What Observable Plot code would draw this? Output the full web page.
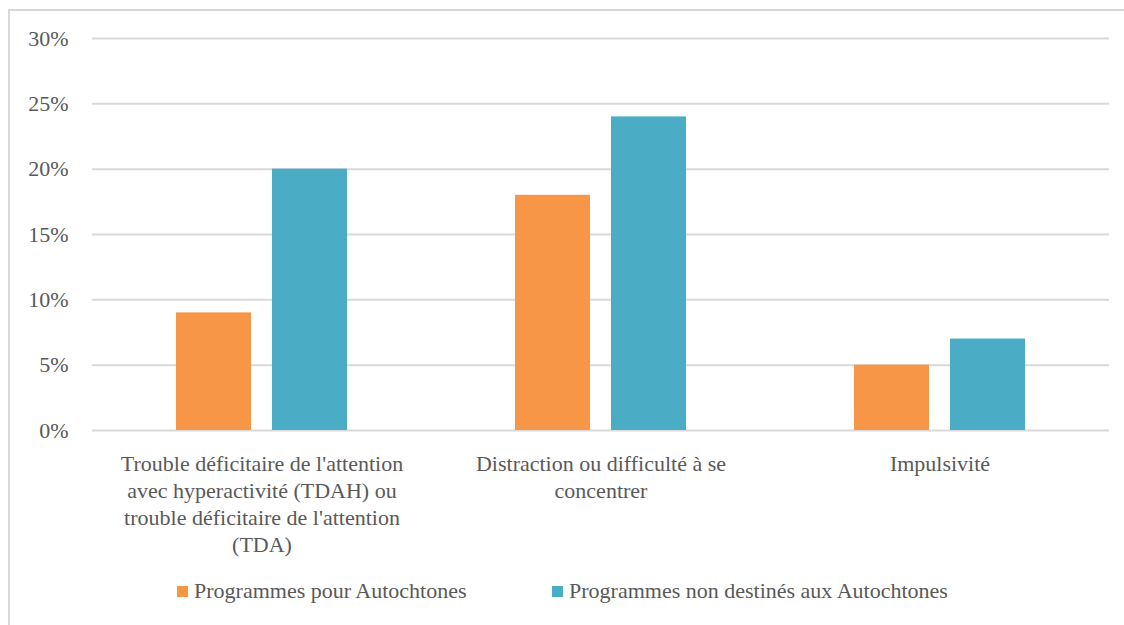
<!DOCTYPE html>
<html>
<head>
<meta charset="utf-8">
<script src="https://cdn.jsdelivr.net/npm/d3@7"></script>
<script src="https://cdn.jsdelivr.net/npm/@observablehq/plot@0.6"></script>
<style>
  body { margin: 0; background: #fff; font-family: 'Times New Roman', Times, Tinos, 'Liberation Serif', 'Noto Serif', 'DejaVu Serif', serif; color: #595959; }
  #frame { position: absolute; left: 8px; top: 9px; width: 1200px; height: 700px;
           border-left: 2px solid #d9d9d9; border-top: 2px solid #d9d9d9; box-sizing: border-box; }
  #chart { position: absolute; left: 0; top: 0; }
  #chart svg, #chart svg text { font-family: 'Times New Roman', Times, Tinos, 'Liberation Serif', 'Noto Serif', 'DejaVu Serif', serif !important; }
  #legend { position: absolute; left: 0; top: 580px; width: 1124px; height: 24px;
            font-size: 22px; line-height: 22px; white-space: nowrap; }
  .item { position: absolute; top: 0; display: flex; align-items: center; }
  .swatch { width: 11px; height: 11px; margin-right: 6px; }
</style>
</head>
<body>
<div id="frame"></div>
<div id="chart"></div>
<div id="legend"></div>
<script>
// Categories, with the wrapped versions shown under the bars
const categories = [
  "Trouble déficitaire de l'attention avec hyperactivité (TDAH) ou trouble déficitaire de l'attention (TDA)",
  "Distraction ou difficulté à se concentrer",
  "Impulsivité"
];
const categoryLabels = [
  "Trouble déficitaire de l'attention\navec hyperactivité (TDAH) ou\ntrouble déficitaire de l'attention\n(TDA)",
  "Distraction ou difficulté à se\nconcentrer",
  "Impulsivité"
];

// Series and their values (share of participants)
const series = ["Programmes pour Autochtones", "Programmes non destinés aux Autochtones"];
const autochtones = [0.09, 0.18, 0.05];
const nonAutochtones = [0.20, 0.24, 0.07];
const seriesColors = ["#F79646", "#4BACC6"];

// Y-axis ticks
const yTicks = [0, 0.05, 0.10, 0.15, 0.20, 0.25, 0.30];

const rows = [];
categories.forEach((c, i) => {
  rows.push({category: c, series: series[0], value: autochtones[i]});
  rows.push({category: c, series: series[1], value: nonAutochtones[i]});
});

const chart = Plot.plot({
  width: 1124,
  height: 560,
  marginLeft: 91,
  marginRight: 15,
  marginTop: 38,
  marginBottom: 130,
  style: {
    fontSize: "22px",
    color: "#595959",
    background: "transparent"
  },
  fx: {domain: categories, padding: 0, label: null},
  x: {domain: series, paddingInner: 0.2165, paddingOuter: 0.857, axis: null},
  y: {domain: [0, 0.3], label: null},
  color: {domain: series, range: seriesColors},
  marks: [
    Plot.gridY(yTicks, {stroke: "#d9d9d9", strokeOpacity: 1, strokeWidth: 2}),
    Plot.barY(rows, {fx: "category", x: "series", y: "value", fill: "series"}),
    Plot.axisY(yTicks, {
      tickSize: 0, tickPadding: 24, fontSize: 22,
      tickFormat: d3.format(".0%"), label: null
    }),
    Plot.axisFx({
      anchor: "bottom",
      tickSize: 0, tickPadding: 21, fontSize: 22, lineHeight: 1.23,
      tickFormat: d => categoryLabels[categories.indexOf(d)], label: null
    })
  ]
});
document.getElementById("chart").appendChild(chart);

// Legend below the chart: one swatch + label per series
const legend = document.getElementById("legend");
const legendLeft = [177, 552];
series.forEach((s, i) => {
  const item = document.createElement("div");
  item.className = "item";
  item.style.left = legendLeft[i] + "px";
  const sw = document.createElement("span");
  sw.className = "swatch";
  sw.style.background = seriesColors[i];
  const label = document.createElement("span");
  label.textContent = s;
  item.appendChild(sw);
  item.appendChild(label);
  legend.appendChild(item);
});
</script>
</body>
</html>
